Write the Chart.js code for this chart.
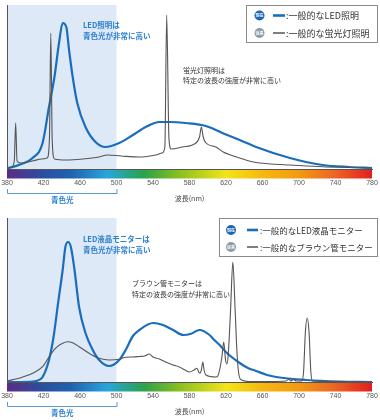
<!DOCTYPE html>
<html><head><meta charset="utf-8">
<script src="https://cdn.jsdelivr.net/npm/chart.js@4.4.1/dist/chart.umd.min.js"></script>
<style>
html,body{margin:0;padding:0;background:#fff;overflow:hidden;width:380px;height:420px;}
.box{position:absolute;left:0;width:380px;height:210px;}
</style></head><body>
<div class="box" style="top:0"><canvas id="c1" width="380" height="210"></canvas></div>
<div class="box" style="top:213px"><canvas id="c2" width="380" height="210"></canvas></div>
<script>
const JP = '"Noto Sans CJK JP","Noto Sans",sans-serif';
// ---------- data ----------
const wavelengthTicks = [380,420,460,500,540,580,620,660,700,740,780];
const blueBand = [380,500];

// top chart: lighting
const ledLightWl  = [380,393,408,419,426,432,437,441,445,448,452,457,466,477,488,503,518,532,547,558,576,598,616,635,653,690,726,755,780];
const ledLightVal = [0.5,4,11,26,62,92,126,146,142,119,92,66,42,27,22,26,34,42,47,47,46,43,36,29,22,11,4,2,1];
const fluoWl  = [380,385,388,389.5,391,395,408,418,424,426.5,428,429.5,432,445,463,481,490,505,525,543,550,553,555,557.5,560,572,587,591,593,595,598,609,617,635,650,670,690,726,760,780];
const fluoVal = [0.5,2,8,46,8,6,8,10,11,30,136,30,10,9,10,12,14,13,12,14,16,22,154,30,20,22,26,32,42,32,26,22,17,11,7,5,4,2.3,1.5,1];

// bottom chart: monitors
const ledMonWl  = [380,395,408,413,419,426,431,436,441,444,447,450,454,459,466,474,481,492,503,510,518,525,540,551,562,573,581,591,602,606,613,621,635,644,653,665,675,708,745,780];
const ledMonVal = [0,0,0.3,1.3,5,22,45,79,112,135,140,135,112,75,49,32,22,16,22,32,46,52,59,57,52,47,48,52,47,43,37,29,19,14,11,7,5,2,0.5,0];
const crtWl  = [380,393,408,419,426,433,441,446,452,459,470,481,492,503,510,518,525,531,536,540,547,554,562,569,575,580,585,588,591,593,594.6,596,598,609,611,613,615.5,617.5,619.5,621,622.5,625,627.5,630,632,634,637,645,660,686,689,691,694,697,700,703,705,707,709,711,713,715,730,780];
const crtVal = [1,3.7,8.7,15.3,25,33.7,38.7,40.3,39.3,35.3,28.7,23.7,22,22.7,24.7,25,25.5,26,28,25,23,20,17,15,12,10,12,13.7,8.7,12,20,12,7,5,6,12,25,40,22,18,28,72,120,72,30,8,2,0.5,0.5,1,3,1,2.5,1,1,1,10,50,64,50,10,1,0.5,0];

const spectrumStops = [[380,'#5b2c86'],[420,'#2a4fa0'],[450,'#1f62b0'],[490,'#27a6dd'],[530,'#2aa24a'],[570,'#8cc11f'],[620,'#f3e41a'],[660,'#f6b80f'],[700,'#f39a12'],[740,'#ec6424'],[780,'#e41e20']];

const pts = (xs, ys) => xs.map((x,i)=>({x, y: ys[i]}));

// ---------- plugin ----------
const specPlugin = {
  id: 'spec',
  beforeDraw(chart, args, o) {
    const {ctx, chartArea: a, scales: {x}} = chart;
    const x0 = x.getPixelForValue(blueBand[0]), x1 = x.getPixelForValue(blueBand[1]);
    ctx.save();
    ctx.fillStyle = '#dde9f6';
    ctx.fillRect(x0, a.top, x1 - x0, a.bottom - a.top);
    ctx.restore();
  },
  afterDraw(chart, args, o) {
    const {ctx, chartArea: a, scales: {x}} = chart;
    ctx.save();
    // spectrum bar
    const gx0 = x.getPixelForValue(380), gx1 = x.getPixelForValue(780);
    const g = ctx.createLinearGradient(gx0, 0, gx1, 0);
    spectrumStops.forEach(([w,c]) => g.addColorStop((w-380)/400, c));
    ctx.fillStyle = g;
    ctx.fillRect(gx0, a.bottom + 1, gx1 - gx0, 8.5);
    // bracket
    const b0 = x.getPixelForValue(blueBand[0]) + 0.5, b1 = x.getPixelForValue(blueBand[1]) + 0.5;
    ctx.strokeStyle = '#5a9ad6'; ctx.lineWidth = 1;
    ctx.beginPath();
    ctx.moveTo(b0, a.bottom + 20); ctx.lineTo(b0, a.bottom + 24.5); ctx.lineTo(b1, a.bottom + 24.5); ctx.lineTo(b1, a.bottom + 20);
    ctx.stroke();
    ctx.fillStyle = '#2a7fcf';
    ctx.font = 'bold 7.5px ' + JP;
    ctx.textAlign = 'center'; ctx.textBaseline = 'middle';
    ctx.fillText('青色光', (b0 + b1) / 2, a.bottom + 31);
    // annotations
    ctx.textAlign = 'left';
    o.notes.forEach(n => {
      ctx.fillStyle = n.color; ctx.font = (n.bold ? 'bold ' : '') + n.size + 'px ' + JP;
      n.lines.forEach((t, i) => ctx.fillText(t, n.x, n.y + i * n.gap));
    });
    // legend box
    const L = o.legend;
    ctx.fillStyle = '#fff'; ctx.fillRect(L.x0, L.y0, L.x1 - L.x0, L.y1 - L.y0);
    ctx.strokeStyle = '#8a8a8a'; ctx.lineWidth = 1;
    ctx.strokeRect(L.x0 + 0.5, L.y0 + 0.5, L.x1 - L.x0 - 1, L.y1 - L.y0 - 1);
    L.rows.forEach(r => {
      ctx.fillStyle = r.badgeColor;
      ctx.beginPath(); ctx.arc(L.badgeX, r.y, 5, 0, Math.PI * 2); ctx.fill();
      ctx.fillStyle = '#fff'; ctx.font = 'bold 4px ' + JP; ctx.textAlign = 'center';
      ctx.fillText(r.badge, L.badgeX, r.y + 0.3);
      ctx.strokeStyle = r.lineColor; ctx.lineWidth = r.lineWidth;
      ctx.beginPath(); ctx.moveTo(L.lineX0, r.y); ctx.lineTo(L.lineX1, r.y); ctx.stroke();
      ctx.fillStyle = '#333'; ctx.font = L.size + 'px ' + JP; ctx.textAlign = 'left';
      ctx.fillText(r.text, L.textX, r.y + 0.5);
    });
    ctx.restore();
  }
};

function makeChart(id, sets, notes, legend) {
  return new Chart(document.getElementById(id), {
    type: 'line',
    data: { datasets: sets },
    plugins: [specPlugin],
    options: {
      responsive: false, animation: false, devicePixelRatio: 1,
      layout: { padding: { left: 7, right: 8, top: 5, bottom: 7 } },
      elements: { point: { radius: 0 } },
      plugins: { legend: { display: false }, tooltip: { enabled: false }, spec: { notes, legend } },
      scales: {
        x: {
          type: 'linear', min: 380, max: 780,
          afterBuildTicks: s => { s.ticks = wavelengthTicks.map(v => ({ value: v })); },
          afterFit: s => { s.paddingLeft = 0; s.paddingRight = 0; s.height = 34; },
          grid: { display: false, drawTicks: false },
          border: { display: true, color: '#555', width: 1 },
          ticks: { padding: 10, color: '#555', font: { size: 7, family: '"Liberation Sans",sans-serif' }, autoSkip: false, maxRotation: 0 },
          title: { display: true, text: '波長(nm)', color: '#444', font: { size: 7, family: JP }, padding: { top: 3, bottom: 0 } }
        },
        y: {
          min: 0, max: 164,
          afterFit: s => { s.width = 0; s.paddingTop = 0; s.paddingBottom = 0; },
          grid: { display: false, drawTicks: false },
          border: { display: true, color: '#555', width: 1 },
          ticks: { display: false }
        }
      }
    }
  });
}

const blueLine = { borderColor: '#1a6dbd', borderWidth: 2.2, cubicInterpolationMode: 'monotone', fill: false };
const grayLine = { borderColor: '#555', borderWidth: 1.1, cubicInterpolationMode: 'monotone', fill: false };

makeChart('c1', [
  Object.assign({ label: '一般的な蛍光灯照明', data: pts(fluoWl, fluoVal) }, grayLine),
  Object.assign({ label: '一般的なLED照明', data: pts(ledLightWl, ledLightVal) }, blueLine)
], [
  { x: 83, y: 25, gap: 11, size: 7.5, bold: true, color: '#2a7fcf', lines: ['LED照明は', '青色光が非常に高い'] },
  { x: 183, y: 70.5, gap: 10, size: 7, bold: false, color: '#333', lines: ['蛍光灯照明は', '特定の波長の強度が非常に高い'] }
], {
  x0: 246, x1: 378, y0: 5, y1: 43, badgeX: 259.5, lineX0: 273, lineX1: 285, textX: 286, size: 9,
  rows: [
    { y: 15.5, badge: '現在', badgeColor: '#1a65b5', lineColor: '#1a6dbd', lineWidth: 2.6, text: ':一般的なLED照明' },
    { y: 33, badge: '従来', badgeColor: '#8c9aa6', lineColor: '#555', lineWidth: 1.5, text: ':一般的な蛍光灯照明' }
  ]
});

makeChart('c2', [
  Object.assign({ label: '一般的なブラウン管モニター', data: pts(crtWl, crtVal) }, grayLine),
  Object.assign({ label: '一般的なLED液晶モニター', data: pts(ledMonWl, ledMonVal) }, blueLine)
], [
  { x: 83, y: 26.5, gap: 11, size: 7.5, bold: true, color: '#2a7fcf', lines: ['LED液晶モニターは', '青色光が非常に高い'] },
  { x: 132, y: 70, gap: 11.5, size: 7, bold: false, color: '#333', lines: ['ブラウン管モニターは', '特定の波長の強度が非常に高い'] }
], {
  x0: 219, x1: 378, y0: 5, y1: 44, badgeX: 231, lineX0: 247, lineX1: 258, textX: 260, size: 8.5,
  rows: [
    { y: 17, badge: '現在', badgeColor: '#1a65b5', lineColor: '#1a6dbd', lineWidth: 2.6, text: ':一般的なLED液晶モニター' },
    { y: 34, badge: '従来', badgeColor: '#8c9aa6', lineColor: '#555', lineWidth: 1.5, text: ':一般的なブラウン管モニター' }
  ]
});
</script>
</body></html>
